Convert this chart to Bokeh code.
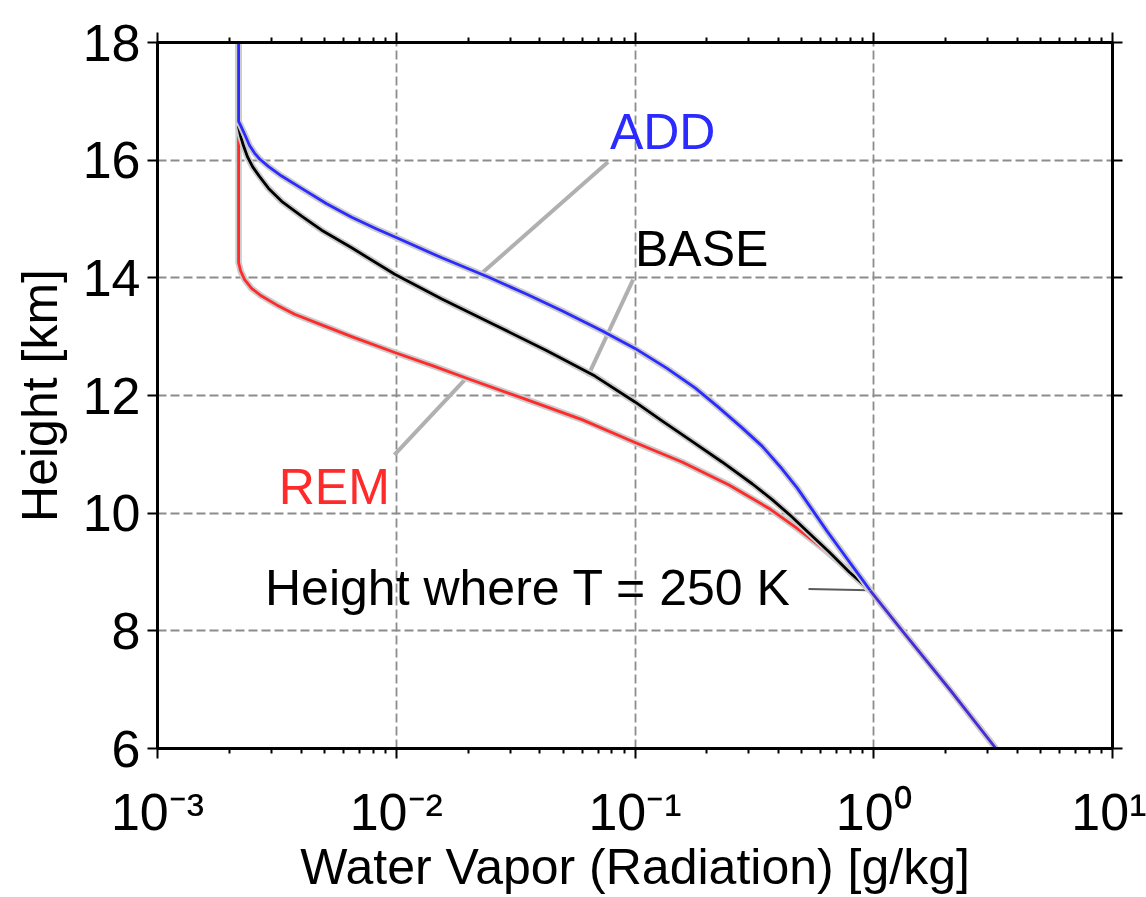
from bokeh.plotting import figure
from bokeh.models import (LogAxis, LinearAxis, Range1d, CustomJSTickFormatter,
                          FixedTicker, Label)
from bokeh.embed import file_html
from bokeh.resources import INLINE

# ---------------- data ----------------
add_height = [18.0, 16.66, 16.59, 16.44, 16.25, 16.12, 16.02, 15.89, 15.73, 15.52,
              15.26, 15.03, 14.83, 14.68, 14.34, 14.01, 13.72, 13.44, 13.10, 12.80,
              12.46, 12.13, 11.82, 11.45, 11.14, 10.75, 10.43, 10.06, 9.69, 9.34,
              8.99, 8.685]
add_wv = [0.002186, 0.002186, 0.002228, 0.002317, 0.002430, 0.002550, 0.002677,
          0.002920, 0.003311, 0.004015, 0.005111, 0.006507, 0.008284, 0.01005,
          0.01552, 0.02442, 0.03525, 0.04941, 0.07272, 0.1000, 0.1362, 0.1785,
          0.2208, 0.2810, 0.3407, 0.4133, 0.4777, 0.5521, 0.6383, 0.7377, 0.8526,
          0.9667]

base_height = [18.0, 16.56, 16.41, 16.24, 16.05, 15.89, 15.72, 15.52, 15.30, 15.05,
               14.81, 14.51, 14.06, 13.64, 13.20, 12.76, 12.33, 11.89, 11.57, 11.22,
               10.87, 10.50, 10.23, 9.98, 9.66, 9.34, 9.00, 8.685]
base_wv = [0.002186, 0.002186, 0.002228, 0.002294, 0.002385, 0.002501, 0.002677,
           0.002920, 0.003311, 0.004015, 0.004870, 0.006507, 0.009856, 0.01552,
           0.02588, 0.04276, 0.06797, 0.1000, 0.1298, 0.1734, 0.2316, 0.3095,
           0.3754, 0.4421, 0.5366, 0.6505, 0.7895, 0.9667]

rem_height = [18.0, 14.26, 14.12, 13.97, 13.82, 13.69, 13.54, 13.38, 13.20, 13.00,
              12.73, 12.50, 12.28, 11.96, 11.59, 11.20, 10.87, 10.48, 10.08, 9.74,
              9.41, 9.05, 8.685]
rem_wv = [0.002186, 0.002186, 0.002228, 0.002317, 0.002477, 0.002729, 0.003155,
          0.003753, 0.004870, 0.006507, 0.009856, 0.01436, 0.02014, 0.03358,
          0.05996, 0.1000, 0.1574, 0.2478, 0.3645, 0.4777, 0.6081, 0.7744, 0.9667]

# common lower part (all three profiles coincide below T = 250 K)
common_height = [8.685, 8.0, 6.99, 6.0]
common_wv = [0.9667, 1.317, 2.094, 3.25]

x_ticks = [1e-3, 1e-2, 1e-1, 1e0, 1e1]
x_tick_labels = ["10\u207b\u00b3", "10\u207b\u00b2", "10\u207b\u00b9", "10\u2070", "10\u00b9"]
x_minor_ticks = [m * d for d in [1e-3, 1e-2, 1e-1, 1e0] for m in range(2, 10)]
y_ticks = [6, 8, 10, 12, 14, 16, 18]

# leader lines (annotation anchors, data coordinates)
add_leader_wv = [0.0771, 0.0230]
add_leader_h = [15.97, 14.09]
base_leader_wv = [0.0982, 0.0635]
base_leader_h = [13.97, 12.33]
rem_leader_wv = [0.00982, 0.0193]
rem_leader_h = [10.99, 12.26]
t_leader_wv = [0.533, 0.955]
t_leader_h = [8.71, 8.69]

FONT = "Liberation Sans"
BLUE = "#2b2bff"
RED = "#ff2b2b"

p = figure(width=1146, height=897, x_axis_type="log",
           x_range=Range1d(1e-3, 1e1), y_range=Range1d(6, 18),
           output_backend="svg", toolbar_location=None,
           min_border_left=157, min_border_right=34,
           min_border_top=42, min_border_bottom=140,
           background_fill_color="white", border_fill_color="white")

p.outline_line_color = "black"
p.outline_line_width = 3

xticker = FixedTicker(ticks=x_ticks, minor_ticks=x_minor_ticks)
yticker = FixedTicker(ticks=y_ticks, minor_ticks=[])

fmt = CustomJSTickFormatter(args=dict(tvals=x_ticks, tlabels=x_tick_labels), code="""
    for (let j = 0; j < tvals.length; j++) {
        if (Math.abs(Math.log10(tvals[j] / tick)) < 1e-6) { return tlabels[j]; }
    }
    return "";
""")
blank = CustomJSTickFormatter(code="return '';")

def style_axis(ax):
    ax.axis_line_color = "black"
    ax.axis_line_width = 3
    ax.major_tick_line_color = "black"
    ax.major_tick_line_width = 2
    ax.major_tick_out = 10
    ax.major_tick_in = 0
    ax.minor_tick_line_color = "black"
    ax.minor_tick_line_width = 2
    ax.minor_tick_out = 5
    ax.minor_tick_in = 0
    ax.major_label_text_font = FONT
    ax.major_label_text_color = "black"
    ax.axis_label_text_font = FONT
    ax.axis_label_text_font_style = "normal"
    ax.axis_label_text_color = "black"

xa = p.xaxis[0]
xa.ticker = xticker
xa.formatter = fmt
style_axis(xa)
xa.major_label_text_font_size = "52px"
xa.major_label_standoff = 24
xa.axis_label = "Water Vapor (Radiation) [g/kg]"
xa.axis_label_text_font_size = "50px"
xa.axis_label_standoff = -5

ya = p.yaxis[0]
ya.ticker = yticker
style_axis(ya)
ya.major_label_text_font_size = "52px"
ya.major_label_standoff = 7
ya.minor_tick_out = 0
ya.axis_label = "Height [km]"
ya.axis_label_text_font_size = "50px"
ya.axis_label_standoff = 12

top = LogAxis(ticker=xticker, formatter=blank)
style_axis(top)
top.major_label_text_font_size = "1px"
p.add_layout(top, "above")

right = LinearAxis(ticker=yticker, formatter=blank)
style_axis(right)
right.minor_tick_out = 0
right.major_label_text_font_size = "1px"
p.add_layout(right, "right")

for g, t in ((p.xgrid[0], xticker), (p.ygrid[0], yticker)):
    g.ticker = t
    g.grid_line_color = "#8c8c8c"
    g.grid_line_width = 1.8
    g.grid_line_dash = "9 4"

# leader lines
for lx, ly in ((add_leader_wv, add_leader_h), (base_leader_wv, base_leader_h),
               (rem_leader_wv, rem_leader_h)):
    p.line(lx, ly, line_color="#b0b0b0", line_width=4)
p.line(t_leader_wv, t_leader_h, line_color="#5a5a5a", line_width=2)

# profiles (each with a faint halo like the reference)
for h, w, c in ((rem_height, rem_wv, RED), (base_height, base_wv, "black"),
                (add_height, add_wv, BLUE)):
    p.line(w, h, line_color="#cccccc", line_width=6.5, line_join="round")
    p.line(w, h, line_color=c, line_width=2.8, line_join="round")
p.line(common_wv, common_height, line_color="#cccccc", line_width=6.5, line_join="round")
p.line(common_wv, common_height, line_color="#4b2bd8", line_width=2.8, line_join="round")

def label(x, y, text, color):
    p.add_layout(Label(x=x, y=y, text=text, text_color=color, text_font=FONT,
                       text_font_size="50px", text_align="left",
                       text_baseline="alphabetic"))

label(0.0785, 16.48, "ADD", BLUE)
label(0.1, 14.485, "BASE", "black")
label(0.00322, 10.44, "REM", RED)
label(0.00282, 8.73, "Height where T = 250 K", "black")

open("out.html", "w").write(file_html(p, INLINE))
